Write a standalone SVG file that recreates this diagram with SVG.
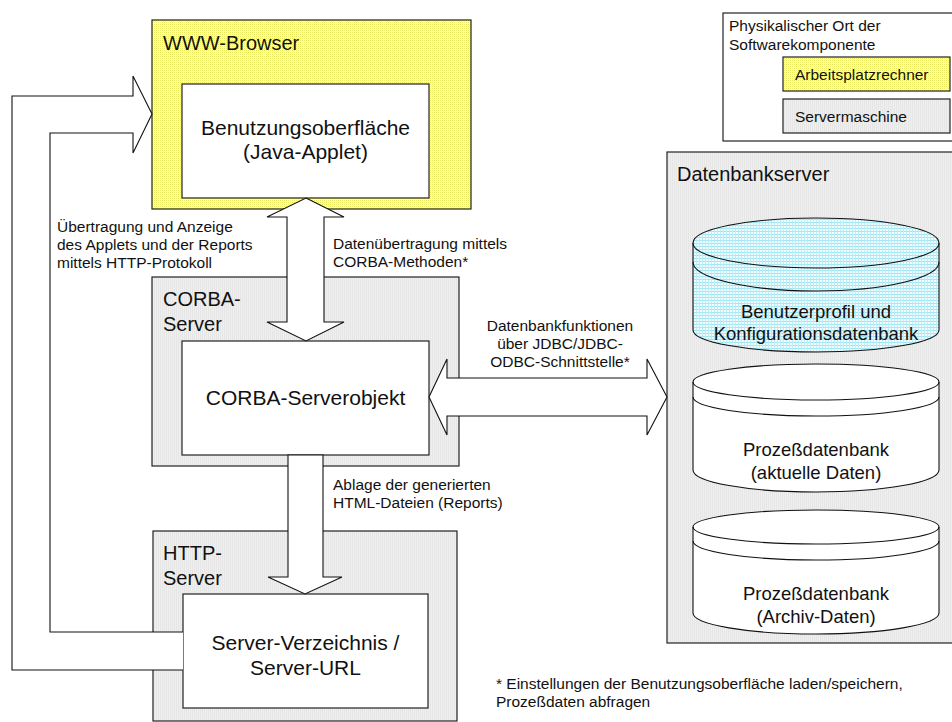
<svg xmlns="http://www.w3.org/2000/svg" width="952" height="722" viewBox="0 0 952 722">
  <defs>
    <!-- dotted yellow fill for client-side components -->
    <pattern id="yel" width="2" height="2" patternUnits="userSpaceOnUse">
      <rect width="2" height="2" fill="#fffff0"/>
      <rect width="1" height="1" fill="#eaea60"/>
      <rect x="1" y="1" width="1" height="1" fill="#fafab0"/>
    </pattern>
    <!-- light grey fill for server machines -->
    <pattern id="gry" width="2" height="2" patternUnits="userSpaceOnUse">
      <rect width="2" height="2" fill="#efefef"/>
      <rect width="1" height="2" fill="#e6e6e6"/>
    </pattern>
    <!-- cyan grid fill for the profile database -->
    <pattern id="cyn" width="3" height="3" patternUnits="userSpaceOnUse">
      <rect width="3" height="3" fill="#f0fcfe"/>
      <rect width="3" height="1" fill="#9fe4f1"/>
      <rect width="1" height="3" fill="#bdedf6"/>
    </pattern>
  </defs>
  <style>
    .frame { stroke: #222; stroke-width: 1.2; }
    .box { fill: #fff; stroke: #222; stroke-width: 1.2; }
    .arrow { fill: #fff; stroke: #111; stroke-width: 1.1; stroke-linejoin: miter; }
    .cyl { stroke: #111; stroke-width: 1.1; }
    .line { fill: none; stroke: #111; stroke-width: 1.1; }
    text { font-family: "Liberation Sans", Arial, sans-serif; fill: #111; }
    .title { font-size: 20px; }
    .node { font-size: 21px; text-anchor: middle; }
    .db { font-size: 18.5px; text-anchor: middle; }
    .lbl { font-size: 15.5px; }
    .lblc { font-size: 15.5px; text-anchor: middle; }
  </style>

  <!-- legend -->
  <g id="legend">
    <rect x="723" y="13" width="240" height="128" class="box"/>
    <text class="lbl" x="729" y="31">Physikalischer Ort der</text>
    <text class="lbl" x="729" y="50">Softwarekomponente</text>
    <rect x="783" y="57" width="167" height="34" fill="url(#yel)" class="frame"/>
    <text class="lbl" x="795" y="80">Arbeitsplatzrechner</text>
    <rect x="783" y="99" width="167" height="34" fill="url(#gry)" class="frame"/>
    <text class="lbl" x="795" y="122">Servermaschine</text>
  </g>

  <!-- WWW browser on the workstation -->
  <g id="www-browser">
    <rect x="152" y="20" width="319" height="189" fill="url(#yel)" class="frame"/>
    <text class="title" x="163" y="50">WWW-Browser</text>
  </g>
  <g id="benutzungsoberflaeche">
    <rect x="182" y="84" width="247" height="114" class="box"/>
    <text class="node" x="305.5" y="135">Benutzungsoberfläche</text>
    <text class="node" x="305.5" y="159">(Java-Applet)</text>
  </g>

  <!-- CORBA server -->
  <g id="corba-server">
    <rect x="152" y="277" width="307" height="189" fill="url(#gry)" class="frame"/>
    <text class="title" x="163" y="306">CORBA-</text>
    <text class="title" x="163" y="331">Server</text>
  </g>
  <g id="corba-serverobjekt">
    <rect x="182" y="341" width="247" height="114" class="box"/>
    <text class="node" x="305.5" y="405">CORBA-Serverobjekt</text>
  </g>

  <!-- HTTP server -->
  <g id="http-server">
    <rect x="153" y="531" width="304" height="190" fill="url(#gry)" class="frame"/>
    <text class="title" x="163" y="560">HTTP-</text>
    <text class="title" x="163" y="585">Server</text>
  </g>
  <g id="server-verzeichnis">
    <rect x="183" y="594" width="245" height="114" class="box"/>
    <text class="node" x="305.5" y="650">Server-Verzeichnis /</text>
    <text class="node" x="305.5" y="675">Server-URL</text>
  </g>

  <!-- database server -->
  <g id="datenbankserver">
    <rect x="667" y="152" width="300" height="491" fill="url(#gry)" class="frame"/>
    <text class="title" x="677" y="181">Datenbankserver</text>
  </g>
  <g id="db-profil">
    <path class="cyl" fill="url(#cyn)" d="M693,243 A123,25 0 0 1 939,243 L939,330 A123,22 0 0 1 693,330 Z"/>
    <path class="line" d="M693,243 A123,25 0 0 0 939,243"/>
    <path class="line" d="M693,262 A123,29 0 0 0 939,262"/>
    <text class="db" x="816" y="318">Benutzerprofil und</text>
    <text class="db" x="816" y="340">Konfigurationsdatenbank</text>
  </g>
  <g id="db-aktuell">
    <path class="cyl" fill="#fff" d="M693,382 A123,18 0 0 1 939,382 L939,470 A123,22 0 0 1 693,470 Z"/>
    <path class="line" d="M693,382 A123,18 0 0 0 939,382"/>
    <path class="line" d="M693,397 A123,19 0 0 0 939,397"/>
    <text class="db" x="816" y="456">Prozeßdatenbank</text>
    <text class="db" x="816" y="479">(aktuelle Daten)</text>
  </g>
  <g id="db-archiv">
    <path class="cyl" fill="#fff" d="M693,527 A123,17 0 0 1 939,527 L939,613 A123,21 0 0 1 693,613 Z"/>
    <path class="line" d="M693,527 A123,17 0 0 0 939,527"/>
    <path class="line" d="M693,541 A123,19 0 0 0 939,541"/>
    <text class="db" x="816" y="600">Prozeßdatenbank</text>
    <text class="db" x="816" y="623">(Archiv-Daten)</text>
  </g>

  <!-- block arrows between components -->
  <g id="connectors">
    <!-- applet <-> CORBA server object -->
    <polygon class="arrow" points="306,198 344,217 324,217 324,322 344,322 306,341 267,322 287,322 287,217 267,217"/>
    <!-- CORBA server object <-> database server -->
    <polygon class="arrow" points="429,397 447,359 447,378 647,378 647,359 667,397 647,435 647,416 447,416 447,435"/>
    <!-- CORBA server object -> HTTP server directory -->
    <polygon class="arrow" points="288,455 323,455 323,577 342,577 305,594 268,577 288,577"/>
    <!-- HTTP server directory -> browser -->
    <path class="arrow" d="M183,632 L50,632 L50,133 L133,133 L133,153 L152,114 L133,76 L133,96 L12,96 L12,670 L183,670"/>
  </g>

  <!-- connector labels -->
  <g id="labels">
    <text class="lbl" x="57" y="232">Übertragung und Anzeige</text>
    <text class="lbl" x="57" y="250">des Applets und der Reports</text>
    <text class="lbl" x="57" y="268">mittels HTTP-Protokoll</text>
    <text class="lbl" x="333" y="249">Datenübertragung mittels</text>
    <text class="lbl" x="333" y="267">CORBA-Methoden*</text>
    <text class="lblc" x="560" y="331">Datenbankfunktionen</text>
    <text class="lblc" x="560" y="349">über JDBC/JDBC-</text>
    <text class="lblc" x="560" y="367">ODBC-Schnittstelle*</text>
    <text class="lbl" x="333" y="490">Ablage der generierten</text>
    <text class="lbl" x="333" y="508">HTML-Dateien (Reports)</text>
    <text class="lbl" x="496" y="689">* Einstellungen der Benutzungsoberfläche laden/speichern,</text>
    <text class="lbl" x="496" y="707">Prozeßdaten abfragen</text>
  </g>
</svg>
